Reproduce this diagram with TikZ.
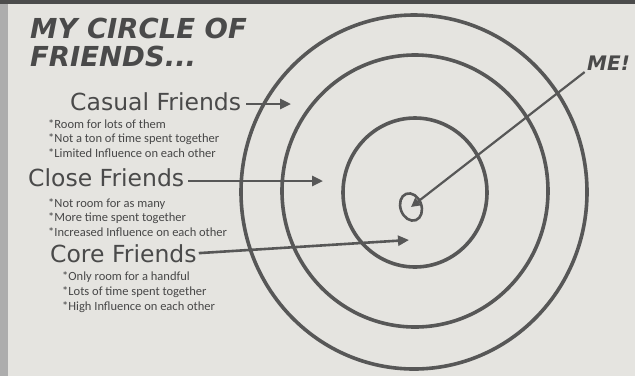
\documentclass[tikz,border=0pt]{standalone}
\usepackage{fontspec}
\usetikzlibrary{arrows.meta,shapes.geometric}
\newfontfamily\handfont{DejaVu Sans}
\newfontfamily\notefont{Carlito}
\definecolor{inkc}{HTML}{4A4A4A}
\definecolor{ringc}{HTML}{575757}
\definecolor{slidec}{HTML}{E5E4E0}
\tikzset{
  ringline/.style={draw=ringc, line width=3.6pt},
  pointer/.style={draw=ringc, line width=2.6pt, -{Triangle[length=11pt,width=10pt]}},
  heading/.style={anchor=base west, inner sep=0pt, text=inkc, font=\handfont\fontsize{23.5}{26}\selectfont},
  note/.style={anchor=base west, inner sep=0pt, text=black!72, font=\notefont\fontsize{12.5}{14}\selectfont},
  titletext/.style={anchor=base west, inner sep=0pt, text=inkc, font=\handfont\bfseries\itshape\fontsize{27.5}{30}\selectfont},
}

\begin{document}
\begin{tikzpicture}[x=1pt,y=1pt,yscale=-1]
\useasboundingbox (0,0) rectangle (635,376);

%Background
\fill [slidec] (0,0) rectangle (635,376);
\fill [color=black!32] (0,0) rectangle (8,376);
\fill [color=black!70] (0,0) rectangle (635,4);

%Rings
\draw [ringline] (414,192) ellipse [x radius=173, y radius=177];
\draw [ringline] (415,191) ellipse [x radius=133, y radius=136];
\draw [ringline] (415,192.5) ellipse [x radius=72, y radius=74.5];
\node [draw=ringc, line width=2.6pt, ellipse, minimum width=21pt, minimum height=28pt, inner sep=0pt, rotate=20] (dot) at (411,207) {};

% Text Node
\node [titletext] (title1) at (30,38) {MY CIRCLE OF};
% Text Node
\node [titletext] (title2) at (30,66) {FRIENDS...};
% Text Node
\node [titletext, font=\handfont\bfseries\itshape\fontsize{20}{24}\selectfont] (me) at (587,70) {ME!};

% Casual
\node [heading] (casual) at (70,110) {Casual Friends};
\node [note] (casual1) at (48,128) {*Room for lots of them};
\node [note] (casual2) at (48,142) {*Not a ton of time spent together};
\node [note] (casual3) at (48,157) {*Limited Influence on each other};

% Close
\node [heading] (close) at (28,186) {Close Friends};
\node [note] (close1) at (48,207) {*Not room for as many};
\node [note] (close2) at (48,221) {*More time spent together};
\node [note] (close3) at (48,236) {*Increased Influence on each other};

% Core
\node [heading] (core) at (50,262) {Core Friends};
\node [note] (core1) at (62,280) {*Only room for a handful};
\node [note] (core2) at (62,295) {*Lots of time spent together};
\node [note] (core3) at (62,310) {*High Influence on each other};

%Arrows
\coordinate (casualTip) at (291,104);
\coordinate (closeTip) at (323,181);
\coordinate (coreTip) at (409,240);
\draw [pointer, shorten <=5pt] (casual.east |- casualTip) -- (casualTip);
\draw [pointer, shorten <=4pt] (close.east |- closeTip) -- (closeTip);
\draw [pointer, shorten <=2pt] (core.east) -- (coreTip);
\draw [pointer, line width=2.2pt, -{Triangle[length=9pt,width=9pt]}, shorten <=3pt] (me.south west) -- (dot.center);

\end{tikzpicture}
\end{document}
